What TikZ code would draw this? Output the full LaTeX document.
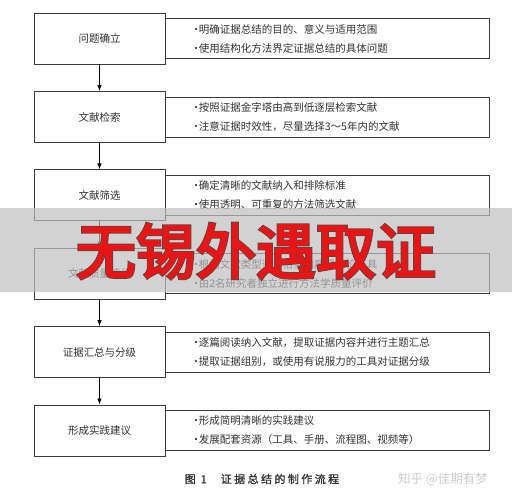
\documentclass[tikz,border=0pt]{standalone}
\usepackage{fontspec}
\setmainfont{Noto Sans CJK SC}
\newfontfamily\capfont[LetterSpace=22,FakeBold=1.2]{Noto Sans CJK SC}
\newfontfamily\wmred[FakeBold=3]{Noto Sans CJK SC}
\newfontfamily\wmblack[FakeBold=5.5]{Noto Sans CJK SC}
\usetikzlibrary{arrows.meta}
\definecolor{ink}{RGB}{50,50,50}
\definecolor{frame}{RGB}{60,60,60}
\definecolor{wmred}{RGB}{235,20,20}
\newcommand{\bul}{\makebox[8pt][l]{·}}
\tikzset{
  lbox/.style={draw=frame, line width=0.9pt, fill=white, minimum width=131pt, minimum height=51pt,
    inner sep=0pt, text=ink, font=\fontsize{10.5}{12}\selectfont},
  rbox/.style={draw=frame, line width=0.9pt, fill=white, minimum width=324pt, minimum height=40pt,
    inner xsep=25pt, inner ysep=0pt, anchor=west, align=left, text width=274pt, text=ink,
    font=\fontsize{10.5}{19}\selectfont},
  arr/.style={draw=black, line width=0.8pt, -{Latex[length=6pt,width=4.5pt]}}
}
\begin{document}
\begin{tikzpicture}[x=1pt,y=-1pt]
\useasboundingbox[fill=white] (0,0) rectangle (512,500);
\node[lbox] (b1) at (99.5,38.5) {问题确立};
\node[lbox] (b2) at (99.5,117) {文献检索};
\node[lbox] (b3) at (99.5,195.3) {文献筛选};
\node[lbox] (b4) at (99.5,273.7) {文献质量评价};
\node[lbox] (b5) at (99.5,352.1) {证据汇总与分级};
\node[lbox] (b6) at (99.5,430.5) {形成实践建议};
\node[rbox] (r1) at (b1.east) {\bul 明确证据总结的目的、意义与适用范围\\\bul 使用结构化方法界定证据总结的具体问题};
\node[rbox] (r2) at (b2.east) {\bul 按照证据金字塔由高到低逐层检索文献\\\bul 注意证据时效性，尽量选择3～5年内的文献};
\node[rbox] (r3) at (b3.east) {\bul 确定清晰的文献纳入和排除标准\\\bul 使用透明、可重复的方法筛选文献};
\node[rbox] (r4) at (b4.east) {\bul 根据文献类型选用恰当的质量评价工具\\\bul 由2名研究者独立进行方法学质量评价};
\node[rbox] (r5) at (b5.east) {\bul 逐篇阅读纳入文献，提取证据内容并进行主题汇总\\\bul 提取证据组别，或使用有说服力的工具对证据分级};
\node[rbox] (r6) at (b6.east) {\bul 形成简明清晰的实践建议\\\bul 发展配套资源（工具、手册、流程图、视频等）};
\draw[arr] (b1) -- (b2);
\draw[arr] (b2) -- (b3);
\draw[arr] (b3) -- (b4);
\draw[arr] (b4) -- (b5);
\draw[arr] (b5) -- (b6);
\node[text=ink, font=\capfont\fontsize{11}{12}\selectfont, anchor=center] (cap) at (262,479) {图 1\hspace{14pt}证据总结的制作流程};
\node[text=black!20, font=\fontsize{12.5}{14}\selectfont, anchor=center] (zh) at (443,479) {知乎 @佳期有梦};
\fill[black!25, opacity=0.7] (0,208) rectangle (512,292);
\node[text=black!70, font=\wmblack\fontsize{60}{62}\selectfont] (wmb) at (256,251) {无锡外遇取证};
\node[text=wmred, font=\wmred\fontsize{60}{62}\selectfont] (wm) at (256,251) {无锡外遇取证};
\end{tikzpicture}
\end{document}
